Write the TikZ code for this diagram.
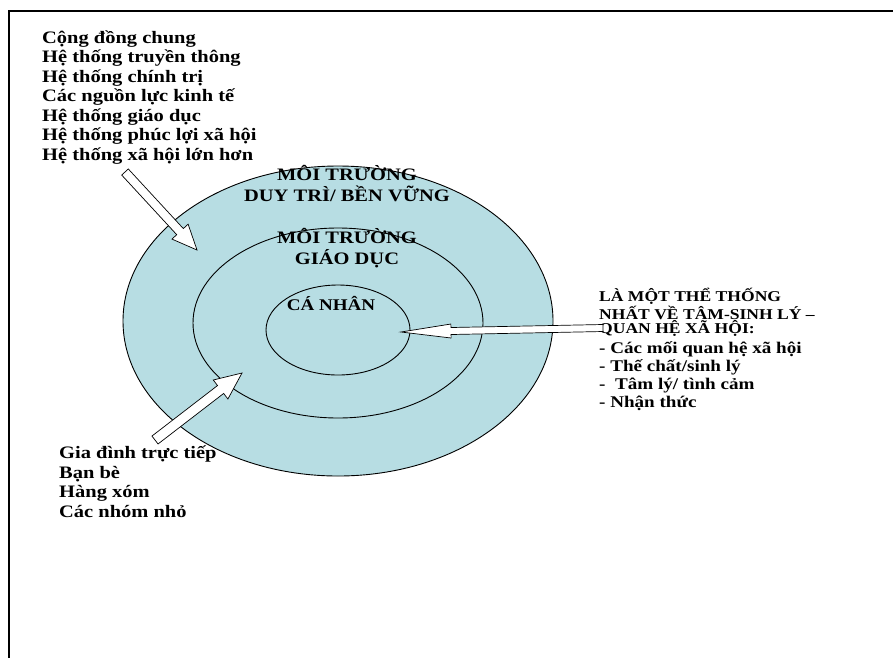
\documentclass[tikz,border=0pt]{standalone}
\usepackage{fontspec}
\setmainfont{Liberation Serif}[FakeStretch=1.17]
\usetikzlibrary{shapes.geometric,calc}
\definecolor{ringfill}{RGB}{183,221,227}
\tikzset{
  ring/.style={ellipse, draw=black, line width=0.9pt, fill=ringfill, inner sep=0pt},
  lbl/.style={font=\bfseries\fontsize{17.5}{19.5}\selectfont, align=left, inner sep=0pt},
  capslbl/.style={font=\bfseries\fontsize{15}{14}\selectfont, align=left, inner sep=0pt},
  listlbl/.style={font=\bfseries\fontsize{16.3}{18}\selectfont, align=left, inner sep=0pt},
  ttl/.style={font=\bfseries\fontsize{17.5}{20.5}\selectfont, align=center, inner sep=0pt},
  blockarrow/.style={draw=black, fill=white, line width=0.7pt, line join=miter},
  frame/.style={draw=black, line width=2pt}
}
\newcommand{\blockarr}[5]{% tail, tip, shaft half-width, head half-width, head length
  \path[blockarrow] let \p1=(#1), \p2=(#2),
      \n1={atan2(\y2-\y1,\x2-\x1)}, \n2={veclen(\x2-\x1,\y2-\y1)}, \n3={\n2-#5} in
    ($(#1)+(\n1+90:#3pt)$)
    -- ($(#1)+(\n1:\n3*1pt)+(\n1+90:#3pt)$)
    -- ($(#1)+(\n1:\n3*1pt)+(\n1+90:#4pt)$)
    -- (#2)
    -- ($(#1)+(\n1:\n3*1pt)+(\n1-90:#4pt)$)
    -- ($(#1)+(\n1:\n3*1pt)+(\n1-90:#3pt)$)
    -- ($(#1)+(\n1-90:#3pt)$) -- cycle;
}
\begin{document}
\begin{tikzpicture}[x=1pt,y=-1pt]
\useasboundingbox (0,0) rectangle (893,657);
\fill[white] (0,0) rectangle (893,657);
\draw[frame] (894,11) -- (9,11) -- (9,658);

\node[ring, minimum width=430pt, minimum height=310pt] (outer) at (338,321) {};
\node[ring, minimum width=290pt, minimum height=190pt] (middle) at (338,323) {};
\node[ring, minimum width=144pt, minimum height=90pt] (inner) at (338,330) {};

\node[ttl, anchor=base] (t1) at (347,201) {MÔI TRƯỜNG\\DUY TRÌ/ BỀN VỮNG};
\node[ttl, anchor=base] (t2) at (347,264) {MÔI TRƯỜNG\\GIÁO DỤC};
\node[ttl, anchor=base, font=\bfseries\fontsize{16.3}{19}\selectfont] (t3) at (331,310) {CÁ NHÂN};

\node[lbl, anchor=base west] (macro) at (42,160) {Cộng đồng chung\\Hệ thống truyền thông\\Hệ thống chính trị\\Các nguồn lực kinh tế\\Hệ thống giáo dục\\Hệ thống phúc lợi xã hội\\Hệ thống xã hội lớn hơn};
\node[lbl, anchor=base west] (micro) at (59,517) {Gia đình trực tiếp\\Bạn bè\\Hàng xóm\\Các nhóm nhỏ};
\node[capslbl, anchor=base west] (caps) at (599,333) {LÀ MỘT THỂ THỐNG\\NHẤT VỀ TÂM-SINH LÝ –\\QUAN HỆ XÃ HỘI:};
\node[listlbl, anchor=base west] (list) at (599,407) {- Các mối quan hệ xã hội\\- Thế chất/sinh lý\\-\ \ Tâm lý/ tình cảm\\- Nhận thức};

\coordinate (a1s) at (125,172);
\coordinate (a1e) at (197,250);
\coordinate (a2s) at (155,440);
\coordinate (a2e) at (242,373);
\coordinate (a3s) at (603,328);
\coordinate (a3e) at (401,332);
\blockarr{a1s}{a1e}{4.5}{11}{25}
\blockarr{a2s}{a2e}{5}{12}{27}
\blockarr{a3s}{a3e}{3.5}{7}{50}
\end{tikzpicture}
\end{document}
